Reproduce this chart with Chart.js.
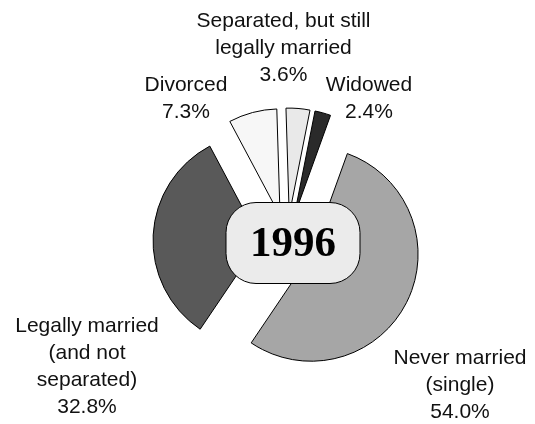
<!DOCTYPE html>
<html>
<head>
<meta charset="utf-8">
<script src="https://cdn.jsdelivr.net/npm/chart.js@4.4.1/dist/chart.umd.min.js"></script>
<style>
  html, body { margin: 0; padding: 0; background: #fff; }
  #wrap { width: 535px; height: 424px; }
</style>
</head>
<body>
<div id="wrap"><canvas id="chart" width="535" height="424"></canvas></div>
<script>
// Données (1996), ordre horaire depuis "Divorced"
const categories = [
    ['Divorced'],
    ['Separated, but still', 'legally married'],
    ['Widowed'],
    ['Never married', '(single)'],
    ['Legally married', '(and not', 'separated)']
];
const values = [7.3, 3.6, 2.4, 54.0, 32.8];
const centerTitle = '1996';

// Styles
const sliceColors = ['#f7f7f7', '#e9e9e9', '#2a2a2a', '#a6a6a6', '#595959'];
const explode = 27;
// position des étiquettes par rapport au centre du graphique
const labelPos = [[-101, -143], [-3.5, -194], [82, -143], [173, 143], [-200, 125]];
const lineH = 27;

// Dessine chaque part décalée le long de sa bissectrice
const explodePlugin = {
    id: 'explode',
    beforeDatasetDraw(chart, args) {
        const ctx = chart.ctx;
        args.meta.data.forEach(arc => {
            const mid = (arc.startAngle + arc.endAngle) / 2;
            ctx.save();
            ctx.translate(Math.cos(mid) * explode, Math.sin(mid) * explode);
            arc.draw(ctx);
            ctx.restore();
        });
        return false;
    }
};

const labelsPlugin = {
    id: 'labels',
    afterDraw(chart) {
        const ctx = chart.ctx;
        const meta = chart.getDatasetMeta(0);
        const cx = meta.data[0].x;
        const cy = meta.data[0].y;

        // boîte centrale
        const bw = 134, bh = 81;
        const bx = cx + 6 - bw / 2, by = cy + 1 - bh / 2;
        ctx.save();
        ctx.beginPath();
        ctx.roundRect(bx, by, bw, bh, 30);
        ctx.fillStyle = '#ebebeb';
        ctx.fill();
        ctx.lineWidth = 1;
        ctx.strokeStyle = '#000';
        ctx.stroke();
        ctx.fillStyle = '#000';
        ctx.font = 'bold 43px "Liberation Serif", "Times New Roman", serif';
        ctx.textAlign = 'center';
        ctx.textBaseline = 'middle';
        ctx.fillText(centerTitle, cx + 6, cy + 3);

        // étiquettes
        ctx.font = '21px "Liberation Sans", Arial, sans-serif';
        ctx.fillStyle = '#111';
        categories.forEach((lines, i) => {
            const all = [...lines, values[i].toFixed(1) + '%'];
            const x = cx + labelPos[i][0];
            const y0 = cy + labelPos[i][1] - (all.length - 1) * lineH / 2;
            all.forEach((t, k) => ctx.fillText(t, x, y0 + k * lineH));
        });
        ctx.restore();
    }
};

new Chart(document.getElementById('chart'), {
    type: 'pie',
    data: {
        labels: categories.map(l => l.join(' ')),
        datasets: [{
            data: values,
            backgroundColor: sliceColors,
            borderColor: '#000',
            borderWidth: 1
        }]
    },
    options: {
        responsive: false,
        animation: false,
        rotation: -28,
        radius: 107,
        layout: { padding: { left: 39, right: 0, top: 60, bottom: 0 } },
        plugins: {
            legend: { display: false },
            tooltip: { enabled: false }
        }
    },
    plugins: [explodePlugin, labelsPlugin]
});
</script>
</body>
</html>
